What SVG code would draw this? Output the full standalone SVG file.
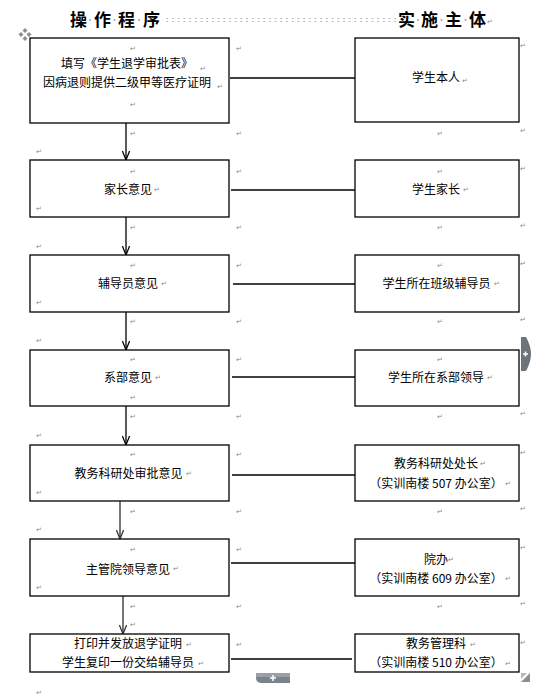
<svg xmlns="http://www.w3.org/2000/svg" width="557" height="697" viewBox="0 0 557 697">
<style>
.box{fill:#fff;stroke:#000;stroke-width:1.3}
.t{font-family:"Noto Sans CJK SC","Liberation Sans",sans-serif;font-size:12px;fill:#000;text-anchor:middle}
.h{font-family:"Noto Sans CJK SC","Liberation Serif",serif;font-size:17px;font-weight:bold;fill:#000}
.pm{font-family:"DejaVu Sans",sans-serif;font-size:7px;fill:#888}
.ln{stroke:#000;stroke-width:1.3;fill:none}
.ar{stroke:#000;stroke-width:1.3;fill:none;marker-end:url(#v)}
.ag{stroke:#555;stroke-width:1.6;fill:none;marker-end:url(#vg)}
.dot{fill:#999}
</style>
<defs>
<marker id="v" viewBox="0 0 10 10" refX="10" refY="5" markerWidth="9" markerHeight="9" markerUnits="userSpaceOnUse" orient="auto">
<path d="M0,1 L10,5 L0,9" fill="none" stroke="#000" stroke-width="1.4"/>
</marker>
<marker id="vg" viewBox="0 0 10 10" refX="10" refY="5" markerWidth="9" markerHeight="9" markerUnits="userSpaceOnUse" orient="auto">
<path d="M0,1 L10,5 L0,9" fill="none" stroke="#333" stroke-width="1.4"/>
</marker>
<pattern id="dots" x="0" y="0" width="5.7" height="4" patternUnits="userSpaceOnUse">
<circle cx="2" cy="2" r="0.9" fill="#999"/>
</pattern>
</defs>

<g id="header">
<text class="h" x="70" y="26">操</text>
<text class="h" x="94" y="26">作</text>
<text class="h" x="118" y="26">程</text>
<text class="h" x="143" y="26">序</text>
<circle class="dot" cx="90" cy="20" r="0.9"/>
<circle class="dot" cx="114.5" cy="20" r="0.9"/>
<circle class="dot" cx="139" cy="20" r="0.9"/>
<rect x="164" y="18" width="232" height="4" fill="url(#dots)"/>
<text class="h" x="398" y="26">实</text>
<text class="h" x="421" y="26">施</text>
<text class="h" x="445" y="26">主</text>
<text class="h" x="469" y="26">体</text>
<circle class="dot" cx="418" cy="20" r="0.9"/>
<circle class="dot" cx="441.5" cy="20" r="0.9"/>
<circle class="dot" cx="465.5" cy="20" r="0.9"/>
<text class="pm" x="487" y="24">↵</text>
</g>

<g id="connectors">
<line class="ar" x1="126" y1="123" x2="126" y2="160"/>
<line class="ar" x1="126" y1="217" x2="126" y2="255"/>
<line class="ar" x1="126" y1="312" x2="126" y2="350"/>
<line class="ar" x1="126" y1="406" x2="126" y2="445"/>
<line class="ag" x1="120" y1="501" x2="120" y2="539"/>
<line class="ag" x1="123" y1="596" x2="123" y2="634"/>
<line class="ln" x1="230" y1="78" x2="355" y2="78"/>
<line class="ln" x1="231" y1="190" x2="355" y2="190"/>
<line class="ln" x1="233" y1="284" x2="355" y2="284"/>
<line class="ln" x1="232" y1="377" x2="355" y2="377"/>
<line class="ln" x1="232" y1="475" x2="355" y2="475"/>
<line class="ln" x1="231" y1="563" x2="355" y2="563"/>
<line class="ln" x1="231" y1="659" x2="352" y2="659"/>
</g>

<g id="step1"><rect class="box" x="30" y="38" width="199" height="85"/>
<text class="t" x="127" y="68">填写《学生退学审批表》</text>
<text class="t" x="127" y="86.5">因病退则提供二级甲等医疗证明</text></g>
<g id="actor1"><rect class="box" x="355" y="38" width="164" height="84"/>
<text class="t" x="436" y="81.5">学生本人</text></g>

<g id="step2"><rect class="box" x="30" y="160" width="199" height="57"/>
<text class="t" x="128" y="193.5">家长意见</text></g>
<g id="actor2"><rect class="box" x="355" y="160" width="164" height="57"/>
<text class="t" x="436" y="193.5">学生家长</text></g>

<g id="step3"><rect class="box" x="30" y="255" width="199" height="57"/>
<text class="t" x="128" y="287.5">辅导员意见</text></g>
<g id="actor3"><rect class="box" x="355" y="255" width="164" height="57"/>
<text class="t" x="436.5" y="287.5">学生所在班级辅导员</text></g>

<g id="step4"><rect class="box" x="30" y="350" width="199" height="56"/>
<text class="t" x="128" y="381.5">系部意见</text></g>
<g id="actor4"><rect class="box" x="355" y="350" width="164" height="56"/>
<text class="t" x="436" y="381.5">学生所在系部领导</text></g>

<g id="step5"><rect class="box" x="30" y="445" width="199" height="56"/>
<text class="t" x="128.5" y="477.5">教务科研处审批意见</text></g>
<g id="actor5"><rect class="box" x="355" y="445" width="164" height="56"/>
<text class="t" x="436" y="467.5">教务科研处处长</text>
<text class="t" x="436" y="487.5">（实训南楼 507 办公室）</text></g>

<g id="step6"><rect class="box" x="30" y="539" width="199" height="57"/>
<text class="t" x="128" y="573.5">主管院领导意见</text></g>
<g id="actor6"><rect class="box" x="355" y="539" width="164" height="57"/>
<text class="t" x="436" y="563.5">院办</text>
<text class="t" x="436" y="582.5">（实训南楼 609 办公室）</text></g>

<g id="step7"><rect class="box" x="30" y="634" width="199" height="38"/>
<text class="t" x="128" y="647.5">打印并发放退学证明</text>
<text class="t" x="128" y="667">学生复印一份交给辅导员</text></g>
<g id="actor7"><rect class="box" x="355" y="634" width="164" height="38"/>
<text class="t" x="436" y="647.5">教务管理科</text>
<text class="t" x="436" y="667">（实训南楼 510 办公室）</text></g>

<g id="marks">
<text class="pm" x="130" y="51">↵</text><text class="pm" x="236" y="51">↵</text>
<text class="pm" x="200" y="71">↵</text><text class="pm" x="217" y="89">↵</text>
<text class="pm" x="130" y="107">↵</text>
<text class="pm" x="462" y="83">↵</text><text class="pm" x="520" y="48">↵</text>

<text class="pm" x="130" y="136">↵</text><text class="pm" x="236" y="136">↵</text><text class="pm" x="36" y="154">↵</text>
<text class="pm" x="437" y="136">↵</text><text class="pm" x="520" y="133">↵</text>

<text class="pm" x="130" y="174">↵</text><text class="pm" x="236" y="174">↵</text>
<text class="pm" x="154" y="192">↵</text><text class="pm" x="36" y="211">↵</text>
<text class="pm" x="437" y="174">↵</text><text class="pm" x="520" y="171">↵</text><text class="pm" x="463" y="192">↵</text>

<text class="pm" x="130" y="230">↵</text><text class="pm" x="236" y="230">↵</text><text class="pm" x="36" y="249">↵</text>
<text class="pm" x="437" y="230">↵</text><text class="pm" x="520" y="228">↵</text>

<text class="pm" x="130" y="268">↵</text><text class="pm" x="236" y="268">↵</text>
<text class="pm" x="161" y="286">↵</text><text class="pm" x="36" y="305">↵</text>
<text class="pm" x="437" y="268">↵</text><text class="pm" x="520" y="266">↵</text><text class="pm" x="494" y="286">↵</text>

<text class="pm" x="130" y="324">↵</text><text class="pm" x="236" y="324">↵</text><text class="pm" x="36" y="343">↵</text>
<text class="pm" x="437" y="324">↵</text><text class="pm" x="520" y="322">↵</text>

<text class="pm" x="130" y="362">↵</text><text class="pm" x="236" y="362">↵</text>
<text class="pm" x="155" y="380">↵</text><text class="pm" x="130" y="400">↵</text>
<text class="pm" x="437" y="362">↵</text><text class="pm" x="487" y="380">↵</text>

<text class="pm" x="130" y="419">↵</text><text class="pm" x="236" y="419">↵</text><text class="pm" x="36" y="438">↵</text>
<text class="pm" x="437" y="419">↵</text><text class="pm" x="520" y="416">↵</text>

<text class="pm" x="130" y="457">↵</text><text class="pm" x="236" y="457">↵</text>
<text class="pm" x="186" y="476">↵</text><text class="pm" x="36" y="495">↵</text>
<text class="pm" x="480" y="466">↵</text><text class="pm" x="505" y="486">↵</text><text class="pm" x="520" y="455">↵</text>

<text class="pm" x="130" y="514">↵</text><text class="pm" x="236" y="514">↵</text><text class="pm" x="36" y="532">↵</text>
<text class="pm" x="437" y="514">↵</text><text class="pm" x="520" y="511">↵</text>

<text class="pm" x="130" y="552">↵</text><text class="pm" x="236" y="552">↵</text>
<text class="pm" x="173" y="571">↵</text><text class="pm" x="36" y="590">↵</text>
<text class="pm" x="448" y="562">↵</text><text class="pm" x="505" y="581">↵</text><text class="pm" x="520" y="550">↵</text>

<text class="pm" x="130" y="609">↵</text><text class="pm" x="236" y="609">↵</text><text class="pm" x="130" y="627">↵</text>
<text class="pm" x="437" y="609">↵</text><text class="pm" x="520" y="606">↵</text>

<text class="pm" x="186" y="647">↵</text><text class="pm" x="198" y="666">↵</text><text class="pm" x="236" y="647">↵</text>
<text class="pm" x="470" y="647">↵</text><text class="pm" x="505" y="666">↵</text><text class="pm" x="520" y="645">↵</text>
<text class="pm" x="36" y="695">↵</text>
</g>

<g id="ui">
<g fill="#8a8f96">
<path d="M25,28 L27.5,30.5 L25,33 L22.5,30.5Z"/>
<path d="M25,36 L27.5,38.5 L25,41 L22.5,38.5Z"/>
<path d="M21,32 L23.5,34.5 L21,37 L18.5,34.5Z"/>
<path d="M29,32 L31.5,34.5 L29,37 L26.5,34.5Z"/>
</g>
<path d="M521,337 L526,337 Q531,346 531,354 Q531,362 526,371 L521,371Z" fill="#6d737b"/>
<path d="M523,354 H528 M525.5,351.5 V356.5" stroke="#fff" stroke-width="1.5"/>
<path d="M256,673 H290 V683 H262 Q256,683 256,678Z" fill="#7d838b"/>
<rect x="256" y="673" width="34" height="4" fill="#9aa0a7"/>
<path d="M270,678 H276 M273,675 V681" stroke="#fff" stroke-width="1.5"/>
<path d="M521,682 L530,673 L530,682Z" fill="#8a8f96"/>
<path d="M521,673 L527,673 L521,679Z" fill="#b5b9be"/>
</g>
</svg>
